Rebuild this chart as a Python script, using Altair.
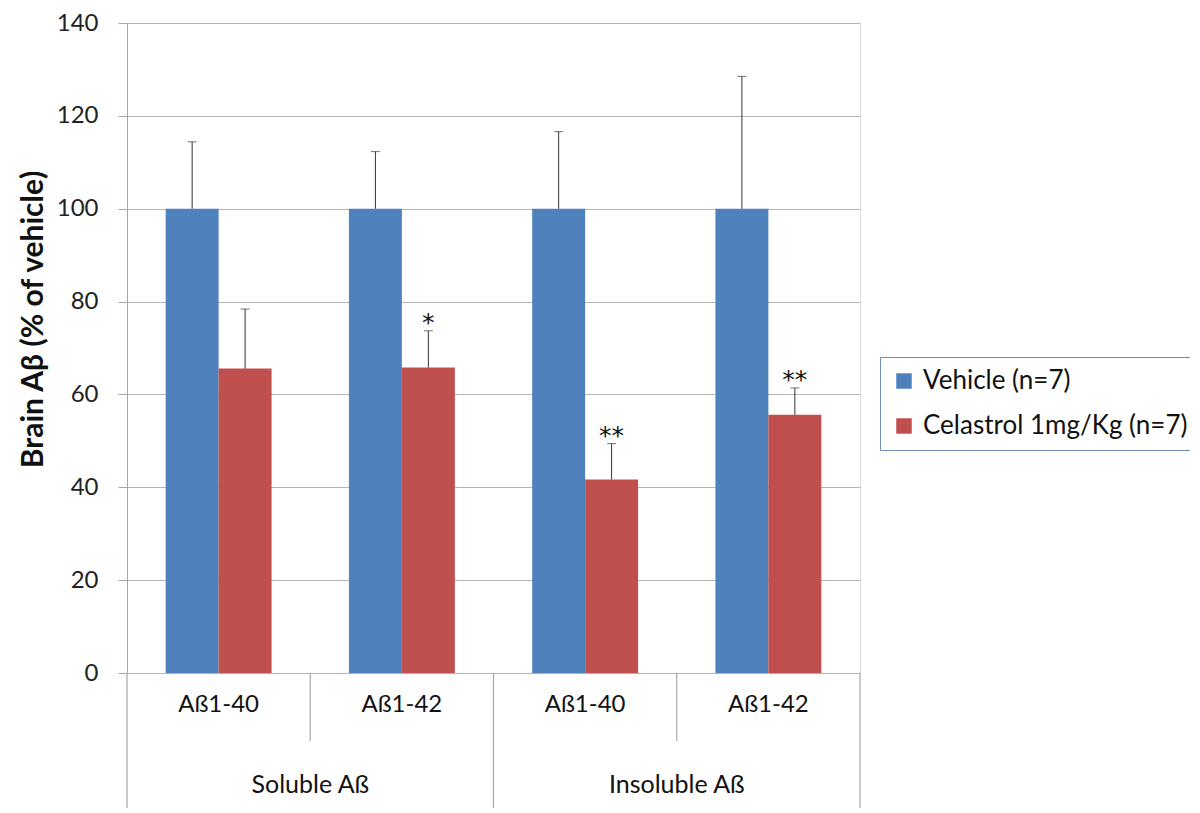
import altair as alt
import pandas as pd

groups = ["S40", "S42", "I40", "I42"]
sub_labels = ["Aß1-40", "Aß1-42", "Aß1-40", "Aß1-42"]
series = ["Vehicle (n=7)", "Celastrol 1mg/Kg (n=7)"]
vehicle_mean = [100, 100, 100, 100]
vehicle_err = [14.4, 12.3, 16.6, 28.5]
cel_mean = [65.6, 65.8, 41.7, 55.6]
cel_err = [12.8, 7.9, 7.7, 5.8]
cel_stars = ["", "*", "**", "**"]
top_labels = ["Soluble Aß", "Insoluble Aß"]
top_label_pos = ["S42", "I42"]

rows = []
for i, g in enumerate(groups):
    rows.append({"g": g, "s": series[0], "v": vehicle_mean[i], "hi": vehicle_mean[i] + vehicle_err[i], "star": ""})
    rows.append({"g": g, "s": series[1], "v": cel_mean[i], "hi": cel_mean[i] + cel_err[i], "star": cel_stars[i]})
df = pd.DataFrame(rows)

W, H = 733, 650
FONT = "Lato"

xscale = alt.Scale(domain=groups, paddingInner=0, paddingOuter=0)
xoff = alt.Scale(domain=series, paddingInner=0, paddingOuter=0.73)
yscale = alt.Scale(domain=[0, 140], nice=False)
color = alt.Scale(domain=series, range=["#4F81BD", "#C0504D"])

base = alt.Chart(df)

bars = base.mark_bar().encode(
    x=alt.X("g:N", scale=xscale, axis=None, sort=groups),
    xOffset=alt.XOffset("s:N", scale=xoff, sort=series),
    y=alt.Y("v:Q", scale=yscale,
            axis=alt.Axis(values=[0, 20, 40, 60, 80, 100, 120, 140], title="Brain Aβ (% of vehicle)",
                          labelFontSize=24, labelFont=FONT, labelColor="#222222", labelPadding=20,
                          titleFont=FONT, titleFontSize=30, titleFontWeight="bold", titleColor="#111111",
                          titlePadding=8, titleY=296, tickSize=9, tickColor="#a6a6a6", domainColor="#a6a6a6",
                          gridColor="#b3b3b3", gridWidth=1.2)),
    color=alt.Color("s:N", scale=color, sort=series,
                    legend=alt.Legend(title=None, orient="none", legendX=753, legendY=334,
                                      labelFontSize=26, labelFont=FONT, labelColor="#111111",
                                      symbolType="square", symbolSize=240, symbolStrokeWidth=0,
                                      labelOffset=6, rowPadding=19, padding=11, strokeColor="#6f8fb8",
                                      fillColor="white", labelLimit=400)),
)

err = base.mark_rule(color="#333333", strokeWidth=1).encode(
    x=alt.X("g:N", scale=xscale, sort=groups),
    xOffset=alt.XOffset("s:N", scale=xoff, sort=series),
    y="v:Q", y2="hi:Q",
)

caps = base.mark_tick(color="#333333", thickness=1, size=9, orient="horizontal").encode(
    x=alt.X("g:N", scale=xscale, sort=groups),
    xOffset=alt.XOffset("s:N", scale=xoff, sort=series),
    y="hi:Q",
)

stars = base.mark_text(fontSize=25, font="DejaVu Sans", baseline="middle", dy=-8, color="#111111").encode(
    x=alt.X("g:N", scale=xscale, sort=groups),
    xOffset=alt.XOffset("s:N", scale=xoff, sort=series),
    y="hi:Q",
    text="star:N",
)

cat_df = pd.DataFrame({"g": groups, "lab": sub_labels})
sub_text = alt.Chart(cat_df).mark_text(fontSize=24, font=FONT, color="#111111", baseline="middle").encode(
    x=alt.X("g:N", scale=xscale, sort=groups),
    y=alt.value(H + 32),
    text="lab:N",
)

sep_g = ["S40", "S42", "I40", "I42", "I42"]
sep_bp = [0, 0, 0, 0, 1]
sep_len = [135, 68, 135, 68, 135]
seps = []
for gg, bp, ln in zip(sep_g, sep_bp, sep_len):
    seps.append(
        alt.Chart(pd.DataFrame({"g": [gg]})).mark_rule(color="#a6a6a6", strokeWidth=1.2).encode(
            x=alt.X("g:N", scale=xscale, sort=groups, bandPosition=float(bp)),
            y=alt.value(H), y2=alt.value(H + int(ln)),
        )
    )

top_df = pd.DataFrame({"g": top_label_pos, "lab": top_labels})
top_text = alt.Chart(top_df).mark_text(fontSize=25, font=FONT, color="#111111", baseline="middle").encode(
    x=alt.X("g:N", scale=xscale, sort=groups, bandPosition=0),
    y=alt.value(H + 112),
    text="lab:N",
)

chart = alt.layer(bars, err, caps, stars, sub_text, top_text, *seps).properties(
    width=W, height=H,
    autosize=alt.AutoSizeParams(type="none"),
    padding={"left": 119, "top": 15, "right": 330, "bottom": 140},
).configure_view(stroke=None).configure(background="white")

chart.save("out.html", embed_options={"renderer": "svg", "actions": False})
